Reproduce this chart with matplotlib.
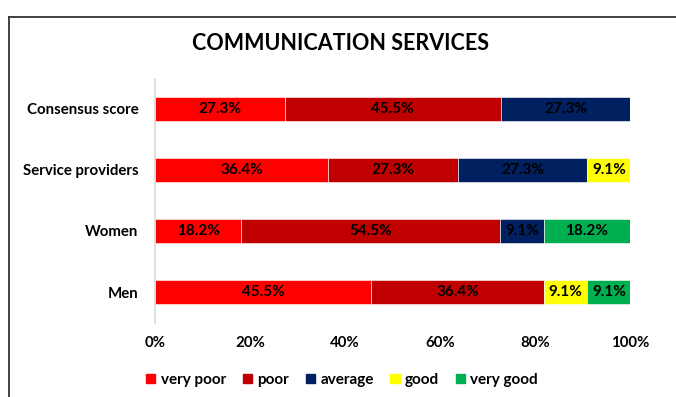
import matplotlib.pyplot as plt
from matplotlib.lines import Line2D
from matplotlib.patches import Patch

# Respondent groups, bottom to top as drawn
grupos = ["Men", "Women", "Service providers", "Consensus score"]

# Share of answers per rating (%)
muito_ruim = [45.5, 18.2, 36.4, 27.3]
ruim = [36.4, 54.5, 27.3, 45.5]
media = [0.0, 9.1, 27.3, 27.3]
bom = [9.1, 0.0, 9.1, 0.0]
muito_bom = [9.1, 18.2, 0.0, 0.0]

categorias = ["very poor", "poor", "average", "good", "very good"]
series = [muito_ruim, ruim, media, bom, muito_bom]
cores = ["#FF0000", "#C00000", "#002060", "#FFFF00", "#00B050"]

plt.rcParams["font.family"] = ["Lato", "DejaVu Sans"]
plt.rcParams["font.weight"] = "bold"

fig = plt.figure(figsize=(6.76, 3.97), dpi=100)
ax = fig.add_axes([155 / 676, 1 - 322.5 / 397, 475 / 676, 244 / 397])

posicoes = list(range(len(grupos)))
esquerda = [0.0] * len(grupos)

# Stacked horizontal bars, one segment per rating
for valores, cor in zip(series, cores):
    ax.barh(posicoes, valores, left=esquerda, height=0.4, color=cor,
            edgecolor="white", linewidth=0.4)
    for i, v in enumerate(valores):
        if v > 0:
            ax.text(esquerda[i] + v / 2, i, f"{v:.1f}%", ha="center",
                    va="center", fontsize=11, fontweight="bold", color="black")
    esquerda = [e + v for e, v in zip(esquerda, valores)]

ax.set_xlim(0, 100)
ax.set_ylim(-0.5, 3.5)
ax.set_xticks([0, 20, 40, 60, 80, 100])
ax.set_xticklabels(["0%", "20%", "40%", "60%", "80%", "100%"])
ax.set_yticks(posicoes)
ax.set_yticklabels(grupos)
ax.tick_params(axis="both", length=0, labelsize=10.8)
ax.tick_params(axis="x", pad=10)
ax.tick_params(axis="y", pad=12)

for lado in ["top", "right", "bottom"]:
    ax.spines[lado].set_visible(False)
ax.spines["left"].set_color("#D9D9D9")
ax.spines["left"].set_linewidth(1.2)

# Title
fig.text(340 / 676, 1 - 43 / 397, "COMMUNICATION SERVICES", ha="center",
         va="center", fontsize=15.5, fontweight="bold")

# Legend under the axis labels
handles = [Patch(facecolor=c, edgecolor=c) for c in cores]
fig.legend(handles, categorias, loc="center", bbox_to_anchor=(342 / 676, 1 - 380 / 397),
           ncol=5, frameon=False, fontsize=11, handlelength=0.6, handleheight=0.6,
           handletextpad=0.35, columnspacing=1.1)

# Border of the chart box (top and left edges)
fig.add_artist(Line2D([8.5 / 676, 1], [1 - 16.5 / 397] * 2, color="#333333", linewidth=1.3))
fig.add_artist(Line2D([8.5 / 676] * 2, [0, 1 - 16.5 / 397], color="#333333", linewidth=1.3))

fig.savefig("out.png", dpi=100)
